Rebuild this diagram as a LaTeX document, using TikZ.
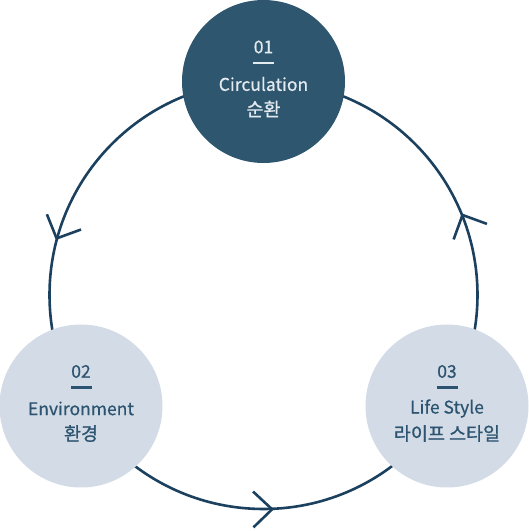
\documentclass[tikz,border=0pt]{standalone}
\usepackage{fontspec}
\setmainfont[FakeBold=0.5]{Noto Sans CJK KR}
\newfontfamily\latfont[FakeBold=0.6]{Noto Sans CJK KR}
\newfontfamily\korfont[FakeBold=1.0]{Noto Sans CJK KR}
\usetikzlibrary{calc}
\definecolor{darkfill}{HTML}{2F566F}
\definecolor{lightfill}{HTML}{D3DCE6}
\definecolor{linec}{HTML}{1C415F}
\definecolor{lighttext}{HTML}{E4EBF0}
\definecolor{darktext}{HTML}{2C5470}
\begin{document}
\begin{tikzpicture}[x=1pt,y=1pt,
  ring/.style={draw=linec, line width=2.6pt},
  chev/.style={draw=linec, line width=2.6pt, line cap=butt, line join=miter},
  bubble/.style={circle, minimum size=163pt, inner sep=0pt, draw=none},
  lat/.style={inner sep=0pt, font=\latfont\fontsize{17.5}{17.5}\selectfont},
  kor/.style={inner sep=0pt, font=\korfont\fontsize{18.5}{18.5}\selectfont},
  bar/.style={line width=2.5pt}]
\useasboundingbox (0,0) rectangle (529,531);
\coordinate (C) at (263.5,236);
\draw[ring] (C) circle (214);
% arrow tips
\coordinate (t1) at ($(C)+(164.7:214.5)$);
\coordinate (t2) at ($(C)+(272.3:214.5)$);
\coordinate (t3) at ($(C)+(21.9:214.5)$);
\draw[chev] ($(t1)+(112:26)$) -- (t1) -- ($(t1)+(20:26)$);
\draw[chev] ($(t2)+(137:26)$) -- (t2) -- ($(t2)+(224:26)$);
\draw[chev] ($(t3)+(250:26)$) -- (t3) -- ($(t3)+(340:26)$);
% bubbles
\node[bubble, fill=darkfill] (n1) at (263.5,449.5) {};
\node[bubble, fill=lightfill] (n2) at (81,125) {};
\node[bubble, fill=lightfill] (n3) at (447,125) {};
% texts
\foreach \n/\num/\en/\ko/\col in {n1/01/Circulation/순환/lighttext, n2/02/Environment/환경/darktext, n3/03/Life Style/라이프 스타일/darktext}{
  \node[lat, text=\col] (\n num) at ($(\n.center)+(0,34.5)$) {\num};
  \draw[bar, draw=\col] ($(\n.center)+(-10.5,18.5)$) -- ($(\n.center)+(10.5,18.5)$);
  \node[lat, text=\col] (\n en) at ($(\n.center)+(0,-2.5)$) {\en};
  \node[kor, text=\col] (\n ko) at ($(\n.center)+(0,-27.5)$) {\ko};
}
\end{tikzpicture}
\end{document}
